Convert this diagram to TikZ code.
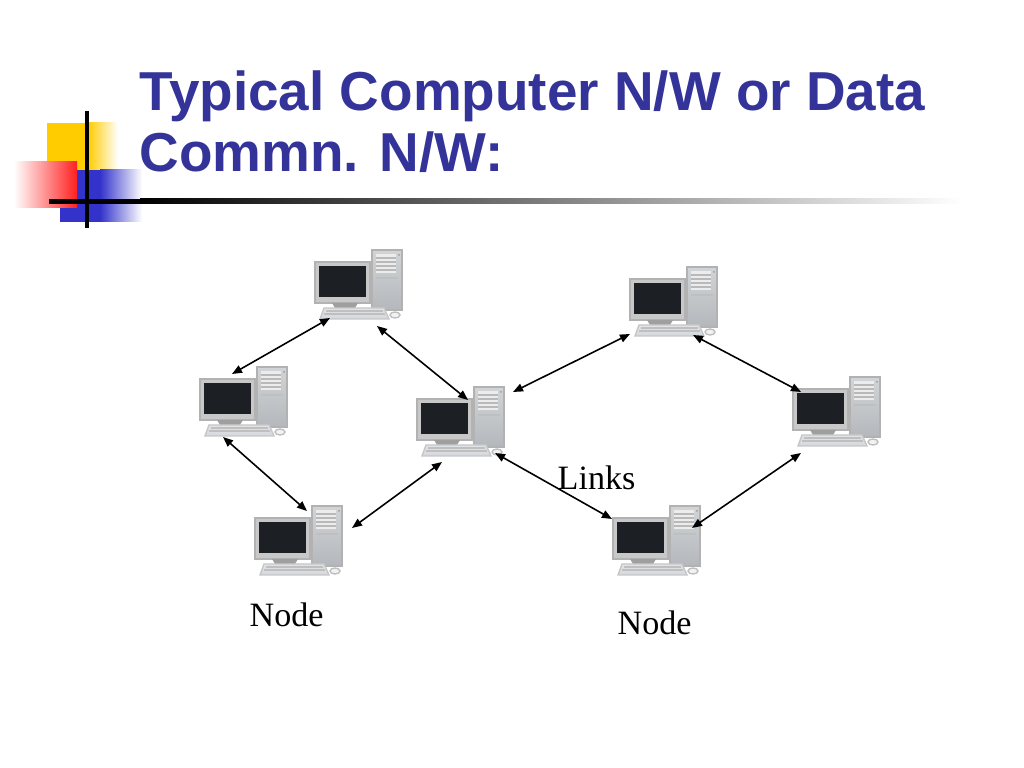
\documentclass[tikz,border=0pt]{standalone}
\usepackage{fontspec}
\setmainfont{Liberation Serif}
\newfontfamily\titlefont{Liberation Sans}
\usepackage{tikz}
\usetikzlibrary{shapes,arrows.meta}
\definecolor{titleblue}{HTML}{333399}
\definecolor{boxyellow}{HTML}{FFCC00}
\definecolor{boxblue}{HTML}{3333CC}
\definecolor{boxred}{HTML}{FF2020}
\definecolor{screen}{HTML}{1C2024}
\definecolor{case}{HTML}{B4B8BC}
\definecolor{keys}{HTML}{D4D8DC}

% one computer: name, x, y (top left, in px)
\newcommand{\pcicon}[3]{%
  \node[pcbox] (#1) at (#2,#3) {};
  \begin{scope}[shift={(#2,#3)}]
    % tower
    \shade[top color=case!60, bottom color=case, draw=gray!60] (62,0) rectangle (92,60);
    \fill[gray!15] (66,4) rectangle (86,23);
    \foreach \yy in {8,12,16,20}
      \draw[gray!55, line width=0.3pt] (66,\yy) -- (86,\yy);
    \fill[gray!80] (89,5) circle (1);
    \draw[gray!50, line width=0.3pt] (66,28) -- (88,28);
    % monitor
    \fill[screen!10!gray!40, draw=gray!60] (5,12) rectangle (60,53);
    \fill[screen] (9,16) rectangle (56,47);
    \fill[gray!75] (22,53) -- (48,53) -- (45,58) -- (25,58) -- cycle;
    % keyboard and mouse
    \shade[top color=keys!70, bottom color=keys, draw=gray!45] (14,58) -- (74,58) -- (79,69) -- (10,69) -- cycle;
    \draw[gray!50, line width=0.3pt] (16,61) -- (73,61) (14,64) -- (75,64);
    \fill[gray!10, draw=gray!50] (85,65) ellipse (5 and 3);
  \end{scope}}

\begin{document}
\begin{tikzpicture}[x=0.01cm, y=-0.01cm,
    pcbox/.style={rectangle, minimum width=0.93cm, minimum height=0.72cm,
      inner sep=0pt, anchor=north west},
    link/.style={{Triangle[length=0.1cm,width=0.08cm]}-{Triangle[length=0.1cm,width=0.08cm]}, line width=0.45pt},
    label/.style={font=\fontsize{9.7}{11}\selectfont, inner sep=0pt, anchor=base west},
    title/.style={font=\titlefont\bfseries\fontsize{15.6}{17.6}\selectfont,
      text=titleblue, align=left, inner sep=0pt, anchor=base west}]
    \useasboundingbox (0,0) rectangle (1024,768);

    % corner decoration
    \fill[boxyellow] (47,123) rectangle (88,170);
    \shade[left color=boxyellow, right color=white] (88,123) rectangle (118,170);
    \fill[boxblue] (60,170) rectangle (100,222);
    \shade[left color=boxblue, right color=white] (100,170) rectangle (142,222);
    \shade[left color=white, right color=boxred] (14,162) rectangle (77,208);
    \draw[line width=1.1pt] (87,111) -- (87,228);
    \fill[black] (49,199) rectangle (140,204);
    \shade[left color=black, right color=white] (140,199) rectangle (962,204);

    \node[title] (head) at (139,172) {Typical Computer N/W or Data\\Commn. N/W:};

    % computers
    \pcicon{pc1}{310}{250}
    \pcicon{pc2}{195}{367}
    \pcicon{pc3}{412}{387}
    \pcicon{pc4}{250}{506}
    \pcicon{pc5}{625}{267}
    \pcicon{pc6}{788}{377}
    \pcicon{pc7}{608}{506}

    % links
    \draw[link] ([shift={(20,68)}]pc1.north west) -- ([shift={(37,7)}]pc2.north west);
    \draw[link] ([shift={(67,76)}]pc1.north west) -- ([shift={(56,13)}]pc3.north west);
    \draw[link] ([shift={(28,70)}]pc2.north west) -- ([shift={(57,5)}]pc4.north west);
    \draw[link] ([shift={(102,22)}]pc4.north west) -- ([shift={(30,75)}]pc3.north west);
    \draw[link] ([shift={(101,5)}]pc3.north west) -- ([shift={(5,67)}]pc5.north west);
    \draw[link] ([shift={(83,66)}]pc3.north west) -- ([shift={(4,13)}]pc7.north west);
    \draw[link] ([shift={(68,68)}]pc5.north west) -- ([shift={(13,15)}]pc6.north west);
    \draw[link] ([shift={(84,22)}]pc7.north west) -- ([shift={(13,76)}]pc6.north west);

    \node[label] (links) at (557,490) {Links};
    \node[label] (node1) at (249,627) {Node};
    \node[label] (node2) at (617,635) {Node};
\end{tikzpicture}
\end{document}
